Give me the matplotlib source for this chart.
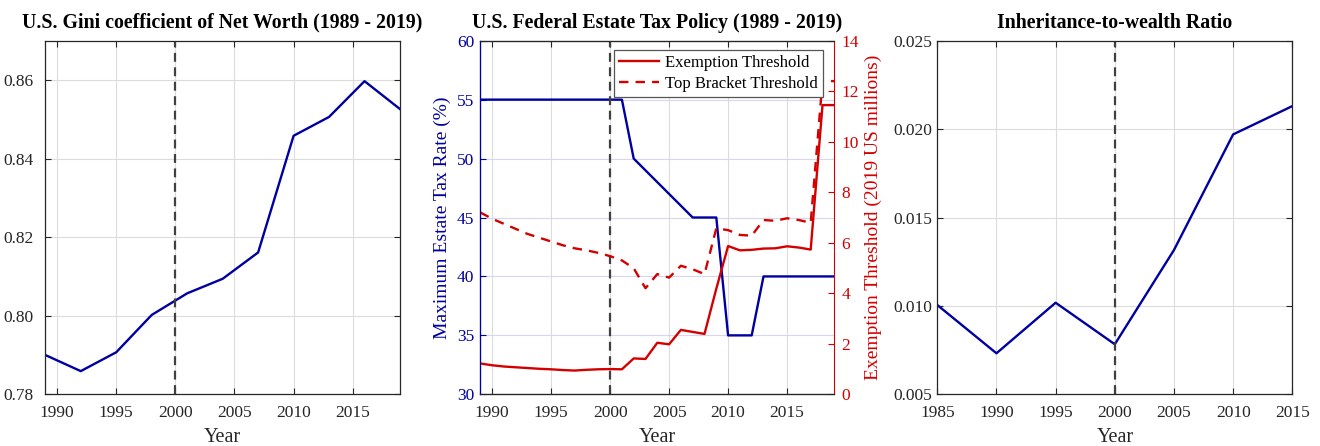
import matplotlib
matplotlib.use("Agg")
import matplotlib.pyplot as plt
from matplotlib.ticker import FormatStrFormatter

# ── data ─────────────────────────────────────────────────────────────────────
gini_years = [1989, 1992, 1995, 1998, 2001, 2004, 2007, 2010, 2013, 2016, 2019]
gini = [0.7900, 0.7859, 0.7907, 0.8002, 0.8057, 0.8094, 0.8161, 0.8458, 0.8506, 0.8597, 0.8526]

tax_years = list(range(1989, 2020))
tax_rate = [55, 55, 55, 55, 55, 55, 55, 55, 55, 55, 55, 55, 55,
            50, 49, 48, 47, 46, 45, 45, 45, 35, 35, 35,
            40, 40, 40, 40, 40, 40, 40]
exemption = [1.22, 1.15, 1.10, 1.07, 1.04, 1.01, 0.99, 0.96, 0.94, 0.97, 0.99, 1.00, 0.99,
             1.42, 1.40, 2.04, 1.98, 2.55, 2.47, 2.39, 4.18, 5.87, 5.70, 5.72,
             5.77, 5.78, 5.86, 5.81, 5.73, 11.45, 11.45]
top_bracket = [7.20, 6.95, 6.75, 6.55, 6.35, 6.20, 6.05, 5.90, 5.78, 5.70, 5.60, 5.47, 5.30,
               4.99, 4.20, 4.76, 4.62, 5.09, 4.95, 4.76, 6.57, 6.50, 6.31, 6.28,
               6.90, 6.87, 6.97, 6.90, 6.79, 12.40, 12.40]

inh_years = [1985, 1990, 1995, 2000, 2005, 2010, 2015]
inh_ratio = [0.01005, 0.00732, 0.01018, 0.00783, 0.01316, 0.0197, 0.0213]

BLUE = "#0000a0"
RED = "#d40000"
DARK = "#262626"
GRID = "#dcdcdc"

plt.rcParams["font.family"] = ["Liberation Serif", "DejaVu Serif"]
plt.rcParams["font.size"] = 12

fig = plt.figure(figsize=(13.2, 4.46), dpi=100)
W, H = 1320, 446
def axes_at(x0, x1, y0=40.7, y1=394.3):
    return fig.add_axes([x0 / W, 1 - y1 / H, (x1 - x0) / W, (y1 - y0) / H])

def style(ax, ypad):
    ax.set_axisbelow(True)
    ax.grid(True, color=GRID, lw=0.8)
    ax.tick_params(direction="in", top=True, right=True, length=4,
                   colors=DARK, labelsize=12.5)
    ax.tick_params(axis="x", pad=8)
    ax.tick_params(axis="y", pad=ypad)
    for s in ax.spines.values():
        s.set_color(DARK)
        s.set_linewidth(0.9)
    ax.set_xlabel("Year", fontsize=14.5, color=DARK, labelpad=5)

vline = dict(color="#404040", lw=1.6, ls=(0, (4, 2.5)))
title_kw = dict(fontsize=14.3, fontweight="bold", pad=9.5)

# ── Panel 1: Gini ────────────────────────────────────────────────────────────
ax = axes_at(45.3, 400)
style(ax, 8.5)
ax.plot(gini_years, gini, color=BLUE, lw=1.7)
ax.axvline(2000, **vline)
ax.set_xlim(1989, 2019)
ax.set_ylim(0.78, 0.87)
ax.set_xticks(range(1990, 2020, 5))
ax.set_yticks([0.78, 0.80, 0.82, 0.84, 0.86])
ax.yaxis.set_major_formatter(FormatStrFormatter("%.2f"))
ax.set_title("U.S. Gini coefficient of Net Worth (1989 - 2019)", **title_kw)

# ── Panel 2: estate tax policy ───────────────────────────────────────────────
ax = axes_at(480.3, 834.3)
style(ax, 4.3)
ax.yaxis.grid(True, color="#d6d6ee", lw=0.8)
ax.tick_params(axis="y", right=False, colors=BLUE)
ax.spines["left"].set_color(BLUE)
ax.spines["right"].set_visible(False)
ax.plot(tax_years, tax_rate, color=BLUE, lw=1.7)
ax.axvline(2000, **vline)
ax.set_xlim(1989, 2019)
ax.set_ylim(30, 60)
ax.set_xticks(range(1990, 2020, 5))
ax.set_yticks(range(30, 61, 5))
ax.set_ylabel("Maximum Estate Tax Rate (%)", color=BLUE, fontsize=14, labelpad=4)
ax.set_title("U.S. Federal Estate Tax Policy (1989 - 2019)", **title_kw)

ax2 = ax.twinx()
ax2.plot(tax_years, exemption, color=RED, lw=1.7, label="Exemption Threshold")
ax2.plot(tax_years, top_bracket, color=RED, lw=1.7, ls=(0, (4, 3)),
         label="Top Bracket Threshold")
ax2.set_ylim(0, 14)
ax2.set_yticks(range(0, 15, 2))
ax2.tick_params(axis="y", direction="in", length=4, colors=RED, labelsize=12.5, pad=5)
ax2.spines["right"].set_color(RED)
ax2.spines["left"].set_color(BLUE)
ax2.spines["top"].set_color(DARK)
ax2.spines["bottom"].set_color(DARK)
ax2.set_ylabel("Exemption Threshold (2019 US millions)", color=RED, fontsize=14, labelpad=4)
leg = ax2.legend(loc="upper right", bbox_to_anchor=(0.967, 0.974), borderaxespad=0,
                 fancybox=False, framealpha=1, edgecolor="#555555", fontsize=12,
                 handlelength=2.4, borderpad=0.3, labelspacing=0.3, handletextpad=0.35)
leg.get_frame().set_linewidth(0.9)

# ── Panel 3: inheritance-to-wealth ───────────────────────────────────────────
ax = axes_at(937.3, 1292.3)
style(ax, 3.6)
ax.plot(inh_years, inh_ratio, color=BLUE, lw=1.7)
ax.axvline(2000, **vline)
ax.set_xlim(1985, 2015)
ax.set_ylim(0.005, 0.025)
ax.set_xticks(range(1985, 2016, 5))
ax.set_yticks([0.005, 0.010, 0.015, 0.020, 0.025])
ax.yaxis.set_major_formatter(FormatStrFormatter("%.3f"))
ax.set_title("Inheritance-to-wealth Ratio", **title_kw)

fig.savefig("out.png", dpi=100)
